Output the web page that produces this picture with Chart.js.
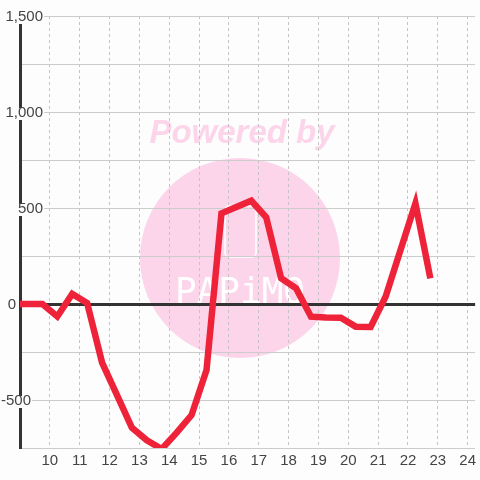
<!DOCTYPE html>
<html><head><meta charset="utf-8">
<script src="https://cdn.jsdelivr.net/npm/chart.js@4/dist/chart.umd.min.js"></script>
<style>html,body{margin:0;padding:0;background:#fcfdfc}#wrap{width:480px;height:480px}</style>
</head><body><div id="wrap"><canvas id="c" width="480" height="480"></canvas></div>
<script>
// Data (hour of day, value)
const hours  = [8.75, 9.25, 9.75, 10.25, 10.75, 11.25, 11.75, 12.25, 12.75, 13.25, 13.75, 14.25, 14.75, 15.25, 15.75, 16.25, 16.75, 17.25, 17.75, 18.25, 18.75, 19.25, 19.75, 20.25, 20.75, 21.25, 21.75, 22.25, 22.75];
const values = [0, 0, 0, -65, 52, 5, -305, -475, -645, -710, -755, -670, -578, -344, 472, 505, 538, 452, 134, 82, -66, -70, -72, -118, -120, 38, 281, 524, 134];
const xTickValues = [10, 11, 12, 13, 14, 15, 16, 17, 18, 19, 20, 21, 22, 23, 24];
const yLabelValues = [1500, 1000, 500, 0, -500];

const BG = '#fcfdfc';
const FONT = '"Liberation Sans", Arial, sans-serif';
// label placement (alignment right edge x) for y labels
const yLabelRight = {"1500": 43, "1000": 43, "500": 43, "0": 16, "-500": 31};

const bgPlugin = {
  id: 'bg',
  beforeDraw(chart) {
    const ctx = chart.ctx;
    ctx.save();
    ctx.fillStyle = BG;
    ctx.fillRect(0, 0, chart.width, chart.height);
    // watermark
    ctx.fillStyle = '#fcd5eb';
    ctx.beginPath();
    ctx.arc(240, 258, 100, 0, Math.PI * 2);
    ctx.fill();
    ctx.font = 'italic bold 33px ' + FONT;
    ctx.textAlign = 'center';
    ctx.textBaseline = 'middle';
    ctx.fillText('Powered by', 242, 134);
    ctx.strokeStyle = '#ffffff';
    ctx.lineWidth = 1.5;
    const r = 4, x0 = 225, y0 = 206, w = 31, h = 51;
    ctx.beginPath();
    ctx.moveTo(x0 + r, y0);
    ctx.arcTo(x0 + w, y0, x0 + w, y0 + h, r);
    ctx.arcTo(x0 + w, y0 + h, x0, y0 + h, r);
    ctx.arcTo(x0, y0 + h, x0, y0, r);
    ctx.arcTo(x0, y0, x0 + w, y0, r);
    ctx.closePath();
    ctx.stroke();
    ctx.fillStyle = '#ffffff';
    ctx.font = '36px "DejaVu Sans Mono", monospace';
    ctx.textBaseline = 'alphabetic';
    ctx.fillText('PAPiMO', 240, 303);
    ctx.restore();
  },
  afterDraw(chart) {
    const ctx = chart.ctx;
    const ys = chart.scales.y;
    ctx.save();
    ctx.font = '15px ' + FONT;
    ctx.textBaseline = 'middle';
    ctx.textAlign = 'right';
    yLabelValues.forEach(v => {
      const py = ys.getPixelForValue(v);
      const txt = v.toLocaleString('en-US');
      const right = yLabelRight[String(v)];
      const w = ctx.measureText(txt).width;
      if (right - w < 22) {
        ctx.fillStyle = BG;
        ctx.fillRect(right - w - 1, py - 4, w + 2, 12);
      }
      ctx.fillStyle = '#444';
      ctx.fillText(txt, right, py + 1);
    });
    ctx.restore();
  }
};

new Chart(document.getElementById('c'), {
  type: 'line',
  data: {
    datasets: [{
      data: hours.map((h, i) => ({x: h, y: values[i]})),
      borderColor: '#ee2238',
      borderWidth: 6.5,
      pointRadius: 0,
      fill: false,
      tension: 0
    }]
  },
  options: {
    responsive: false,
    animation: false,
    events: [],
    layout: {padding: {left: 20, top: 16, right: 0, bottom: 6}},
    plugins: {legend: {display: false}, tooltip: {enabled: false}},
    scales: {
      x: {
        type: 'linear',
        min: 9,
        max: 24.25,
        ticks: {
          stepSize: 1,
          includeBounds: false,
          padding: 4,
          color: '#444',
          font: {family: FONT, size: 15},
          callback: (v) => (xTickValues.includes(v) ? String(v) : ''),
          maxRotation: 0,
          autoSkip: false
        },
        grid: {color: '#c4c4c4', lineWidth: 1, drawTicks: false},
        border: {display: false, dash: [3, 3]}
      },
      y: {
        type: 'linear',
        min: -750,
        max: 1500,
        ticks: {display: false, stepSize: 250},
        grid: {
          drawTicks: false,
          color: (c) => (c.tick && c.tick.value === 0 ? '#333333' : '#cccccc'),
          lineWidth: (c) => (c.tick && c.tick.value === 0 ? 3 : 1)
        },
        border: {display: true, color: '#333333', width: 3}
      }
    }
  },
  plugins: [bgPlugin]
});
</script>
</body></html>
